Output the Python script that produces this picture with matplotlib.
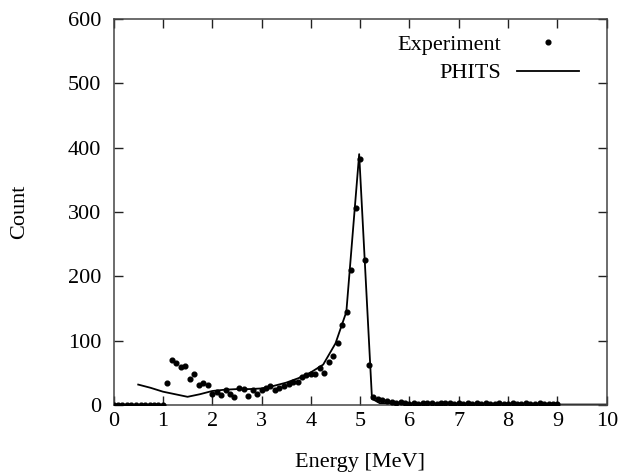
# coding: utf-8
import matplotlib
matplotlib.use("Agg")
import matplotlib.pyplot as plt

# measured spectrum (Experiment)
exp_energy = [0.00, 0.09, 0.18, 0.27, 0.36, 0.45, 0.55, 0.64, 0.73, 0.82,
              0.91, 1.00, 1.09, 1.18, 1.27, 1.36, 1.45, 1.55, 1.64, 1.73,
              1.82, 1.91, 2.00, 2.09, 2.18, 2.27, 2.36, 2.45, 2.55, 2.64,
              2.73, 2.82, 2.91, 3.00, 3.09, 3.18, 3.27, 3.36, 3.45, 3.55,
              3.64, 3.73, 3.82, 3.91, 4.00, 4.09, 4.18, 4.27, 4.36, 4.45,
              4.55, 4.64, 4.73, 4.82, 4.91, 5.00, 5.09, 5.18, 5.27, 5.36,
              5.45, 5.55, 5.64, 5.73, 5.82, 5.91, 6.00, 6.09, 6.18, 6.27,
              6.36, 6.45, 6.55, 6.64, 6.73, 6.82, 6.91, 7.00, 7.09, 7.18,
              7.27, 7.36, 7.45, 7.55, 7.64, 7.73, 7.82, 7.91, 8.00, 8.09,
              8.18, 8.27, 8.36, 8.45, 8.55, 8.64, 8.73, 8.82, 8.91, 9.00]
exp_count = [0, 0, 0, 0, 0, 0, 0, 0, 0, 0,
             0, 0, 35, 70, 65, 60, 61, 41, 48, 31,
             35, 32, 17, 21, 16, 23, 18, 12, 27, 25,
             15, 23, 17, 23, 27, 30, 24, 26, 30, 33,
             36, 36, 44, 47, 48, 48, 57, 50, 67, 76,
             97, 125, 145, 210, 306, 383, 225, 62, 12, 10,
             8, 7, 5, 4, 5, 3, 2, 3, 2, 3,
             4, 3, 2, 3, 4, 3, 2, 3, 2, 3,
             2, 3, 2, 3, 2, 2, 3, 2, 2, 3,
             2, 2, 3, 2, 2, 3, 2, 2, 2, 2]

# simulation (PHITS)
phits_energy = [0.50, 0.75, 1.00, 1.25, 1.50, 1.75, 2.00, 2.25, 2.50, 2.75,
                3.00, 3.25, 3.50, 3.75, 4.00, 4.25, 4.50, 4.72, 4.98, 5.24,
                5.40, 6.00, 7.00, 8.00, 9.00, 10.00]
phits_count = [32, 27, 21, 17, 13, 17, 22, 24, 25, 25,
               26, 30, 35, 42, 51, 63, 96, 145, 390, 10,
               3, 2, 2, 1, 1, 1]

plt.rcParams['font.family'] = ['Liberation Serif', 'DejaVu Serif']
plt.rcParams['font.size'] = 16

fig = plt.figure(figsize=(6.38, 4.75), dpi=100)
ax = fig.add_axes([0.178, 0.147, 0.773, 0.813])

ax.plot(exp_energy, exp_count, 'o', color='black', markersize=3.4,
        label='Experiment', zorder=3)
ax.plot(phits_energy, phits_count, '-', color='black', linewidth=1.3,
        label='PHITS', zorder=2)

ax.set_xlim(0, 10)
ax.set_ylim(0, 600)
ax.set_xticks(range(0, 11))
ax.set_yticks(range(0, 601, 100))
ax.tick_params(direction='in', length=6.5, width=1, top=True, right=True,
               colors='#222222', labelcolor='black', pad=5)
ax.tick_params(axis='y', pad=9)
for s in ax.spines.values():
    s.set_linewidth(1.1)
    s.set_color('#444444')

ax.set_xlabel('Energy [MeV]', labelpad=16)
ax.set_ylabel('Count', labelpad=28)

ax.legend(loc='upper right', frameon=False, markerfirst=False,
          handlelength=2.8, handletextpad=0.7, labelspacing=0.35,
          borderaxespad=0.3, bbox_to_anchor=(0.975, 1.0))

plt.savefig('out.png', dpi=100)
